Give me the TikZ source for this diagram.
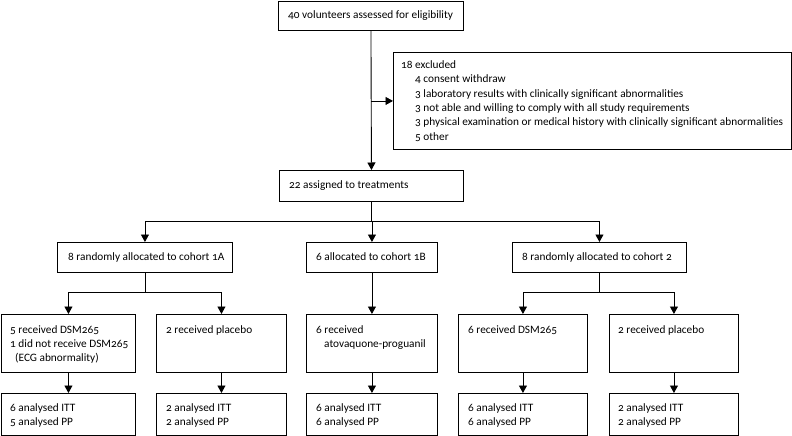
\documentclass[tikz,border=0pt]{standalone}
\usepackage{fontspec}
\setmainfont[Numbers=OldStyle]{Carlito}
\usetikzlibrary{arrows.meta}
\tikzset{
  box/.style={draw, line width=0.9pt, anchor=north west, inner sep=0pt},
  txt/.style={anchor=base west, inner sep=0pt, font=\fontsize{11.3}{14.2}\selectfont},
  conn/.style={line width=0.9pt},
  arr/.style={line width=0.9pt, -{Triangle[width=8pt,length=7.5pt]}}
}
\newcommand{\mybox}[5]{\node[box, minimum width=#4pt-#2pt, minimum height=#5pt-#3pt] (#1) at (#2,#3) {};}
\begin{document}
\begin{tikzpicture}[x=1pt,y=-1pt]
\useasboundingbox (0,0) rectangle (792,436);
% boxes
\mybox{top}{278}{0.8}{463}{30}
\mybox{excl}{393}{52}{791}{149}
\mybox{assign}{279}{170}{463}{201}
\mybox{coA}{57}{242}{232}{272}
\mybox{coB}{306}{242}{437}{272}
\mybox{coC}{512}{242}{686}{272}
\mybox{rA1}{1}{314}{135}{372}
\mybox{rA2}{156}{314}{286}{372}
\mybox{rB}{306}{314}{437}{372}
\mybox{rC1}{458}{314}{587}{372}
\mybox{rC2}{609}{314}{738}{372}
\mybox{aA1}{1}{393}{135}{435}
\mybox{aA2}{156}{393}{286}{435}
\mybox{aB}{306}{393}{437}{435}
\mybox{aC1}{458}{393}{587}{435}
\mybox{aC2}{609}{393}{738}{435}
% texts
\node[txt] (ttop) at (288,18.5) {40 volunteers assessed for eligibility};
\node[txt] (texcl) at (401,68.5) {\parbox[t]{390pt}{\baselineskip=14.3pt 18 excluded\\
\hspace*{14pt}4 consent withdraw\\
\hspace*{14pt}3 laboratory results with clinically significant abnormalities\\
\hspace*{14pt}3 not able and willing to comply with all study requirements\\
\hspace*{14pt}3 physical examination or medical history with clinically significant abnormalities\\
\hspace*{14pt}5 other}};
\node[txt] (tassign) at (289,188.5) {22 assigned to treatments};
\node[txt] (tcoA) at (68,260.5) {8 randomly allocated to cohort 1A};
\node[txt] (tcoB) at (316,260.5) {6 allocated to cohort 1B};
\node[txt] (tcoC) at (522,260.5) {8 randomly allocated to cohort 2};
\node[txt] (trA1) at (10,333.5) {\parbox[t]{130pt}{5 received DSM265\\1 did not receive DSM265\\\hspace*{5pt}(ECG abnormality)}};
\node[txt] (trA2) at (166,333.5) {2 received placebo};
\node[txt] (trB) at (316,333.5) {\parbox[t]{130pt}{6 received\\\hspace*{8pt}atovaquone-proguanil}};
\node[txt] (trC1) at (468,333.5) {6 received DSM265};
\node[txt] (trC2) at (618,333.5) {2 received placebo};
\node[txt] (taA1) at (10,411.5) {\parbox[t]{130pt}{6 analysed ITT\\5 analysed PP}};
\node[txt] (taA2) at (166,411.5) {\parbox[t]{130pt}{2 analysed ITT\\2 analysed PP}};
\node[txt] (taB) at (316,411.5) {\parbox[t]{130pt}{6 analysed ITT\\6 analysed PP}};
\node[txt] (taC1) at (468,411.5) {\parbox[t]{130pt}{6 analysed ITT\\6 analysed PP}};
\node[txt] (taC2) at (618,411.5) {\parbox[t]{130pt}{2 analysed ITT\\2 analysed PP}};
% connectors
\coordinate (jx) at (top.south |- excl.west);
\draw[arr] (top.south) -- (assign.north);
\draw[arr] (jx) -- (excl.west);
\coordinate (jb) at (assign.south |- 0,221);
\draw[conn] (assign.south) -- (jb);
\draw[arr] (jb) -| (coA.north);
\draw[arr] (jb) -| (coC.north);
\draw[arr] (jb) -- (jb -| coB.north) -- (coB.north);
\coordinate (jA) at (coA.south |- 0,292);
\draw[conn] (coA.south) -- (jA);
\draw[arr] (jA) -| (rA1.north);
\draw[arr] (jA) -| (rA2.north);
\coordinate (jC) at (coC.south |- 0,292);
\draw[conn] (coC.south) -- (jC);
\draw[arr] (jC) -| (rC1.north);
\draw[arr] (jC) -| (rC2.north);
\draw[arr] (coB.south) -- (rB.north);
\draw[arr] (rA1.south) -- (aA1.north);
\draw[arr] (rA2.south) -- (aA2.north);
\draw[arr] (rB.south) -- (aB.north);
\draw[arr] (rC1.south) -- (aC1.north);
\draw[arr] (rC2.south) -- (aC2.north);
\end{tikzpicture}
\end{document}
